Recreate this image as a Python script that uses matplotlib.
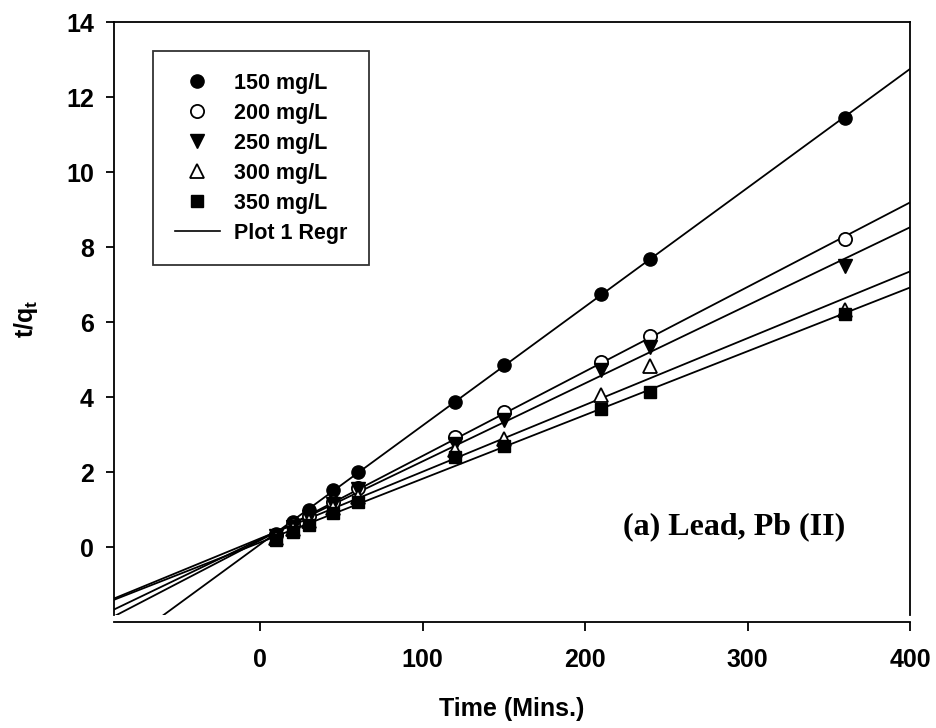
import numpy as np
import matplotlib
matplotlib.use("Agg")
import matplotlib.pyplot as plt
from matplotlib.lines import Line2D

plt.rcParams['font.family'] = ['Liberation Sans', 'DejaVu Sans']
plt.rcParams['font.weight'] = 'bold'
plt.rcParams['mathtext.fontset'] = 'custom'
plt.rcParams['mathtext.bf'] = 'Liberation Sans:bold'
plt.rcParams['mathtext.rm'] = 'Liberation Sans:bold'
plt.rcParams['mathtext.default'] = 'bf'

time_min = [10, 20, 30, 45, 60, 120, 150, 210, 240, 360]
c150 = [0.37, 0.69, 1.01, 1.54, 2.00, 3.88, 4.87, 6.76, 7.68, 11.45]
c200 = [0.33, 0.60, 0.85, 1.22, 1.58, 2.93, 3.62, 4.93, 5.64, 8.21]
c250 = [0.30, 0.55, 0.80, 1.15, 1.55, 2.75, 3.40, 4.72, 5.33, 7.49]
c300 = [0.26, 0.48, 0.70, 1.05, 1.35, 2.60, 2.90, 4.05, 4.83, 6.32]
c350 = [0.20, 0.40, 0.60, 0.92, 1.22, 2.40, 2.70, 3.68, 4.13, 6.22]
labels = ["150 mg/L", "200 mg/L", "250 mg/L", "300 mg/L", "350 mg/L"]
x_ticks = [0, 100, 200, 300, 400]
y_ticks = [0, 2, 4, 6, 8, 10, 12, 14]

series = [c150, c200, c250, c300, c350]
styles = [
    dict(marker='o', mfc='black', mec='black', ms=9.5),
    dict(marker='o', mfc='white', mec='black', ms=9.5, mew=1.3),
    dict(marker='v', mfc='black', mec='black', ms=10),
    dict(marker='^', mfc='white', mec='black', ms=10, mew=1.3),
    dict(marker='s', mfc='black', mec='black', ms=8.5),
]

fig = plt.figure(figsize=(9.37, 7.28), dpi=100)
ax = fig.add_axes([114/937, 1-615/728, (910-114)/937, (615-22)/728])

xlim = (-90, 400)
ylim = (-1.8, 14)
xx = np.linspace(xlim[0], xlim[1], 200)
x = np.array(time_min, dtype=float)
for ys in series:
    m, b = np.polyfit(x, np.array(ys), 1)
    ax.plot(xx, m*xx + b, color='black', lw=1.3, zorder=2)

handles = []
for ys, st, lab in zip(series, styles, labels):
    h, = ax.plot(x, ys, linestyle='none', label=lab, zorder=3, **st)
    handles.append(h)
handles.append(Line2D([], [], color='black', lw=1.2, label='Plot 1 Regr'))

ax.set_xlim(*xlim)
ax.set_ylim(*ylim)
ax.set_xticks(x_ticks)
ax.set_yticks(y_ticks)
ax.tick_params(axis='x', direction='out', length=6.5, width=1.3, labelsize=18, pad=12)
ax.tick_params(axis='y', direction='out', length=5.5, width=1.3, labelsize=18, pad=9)
for lab in ax.get_xticklabels() + ax.get_yticklabels():
    lab.set_fontweight('bold')
for s in ax.spines.values():
    s.set_linewidth(1.3)
ax.spines['bottom'].set_position(('outward', 5))

ax.set_xlabel('Time (Mins.)', fontsize=18, fontweight='bold', labelpad=18)
ax.set_ylabel('t/q$_t$', fontsize=18, fontweight='bold', labelpad=19)

leg = ax.legend(handles=handles, loc='upper left', bbox_to_anchor=(0.049, 0.951),
                borderaxespad=0, frameon=True, fancybox=False, edgecolor='black',
                prop={'family': 'Liberation Sans', 'weight': 'bold', 'size': 15.5},
                handlelength=2.1, handletextpad=0.65, labelspacing=0.42,
                borderpad=1.0)
leg.get_frame().set_linewidth(1.3)

ax.text(292, 0.56, '(a) Lead, Pb (II)', fontsize=23, fontweight='bold',
        family='Liberation Serif', ha='center', va='center')

fig.savefig('out.png', dpi=100)
